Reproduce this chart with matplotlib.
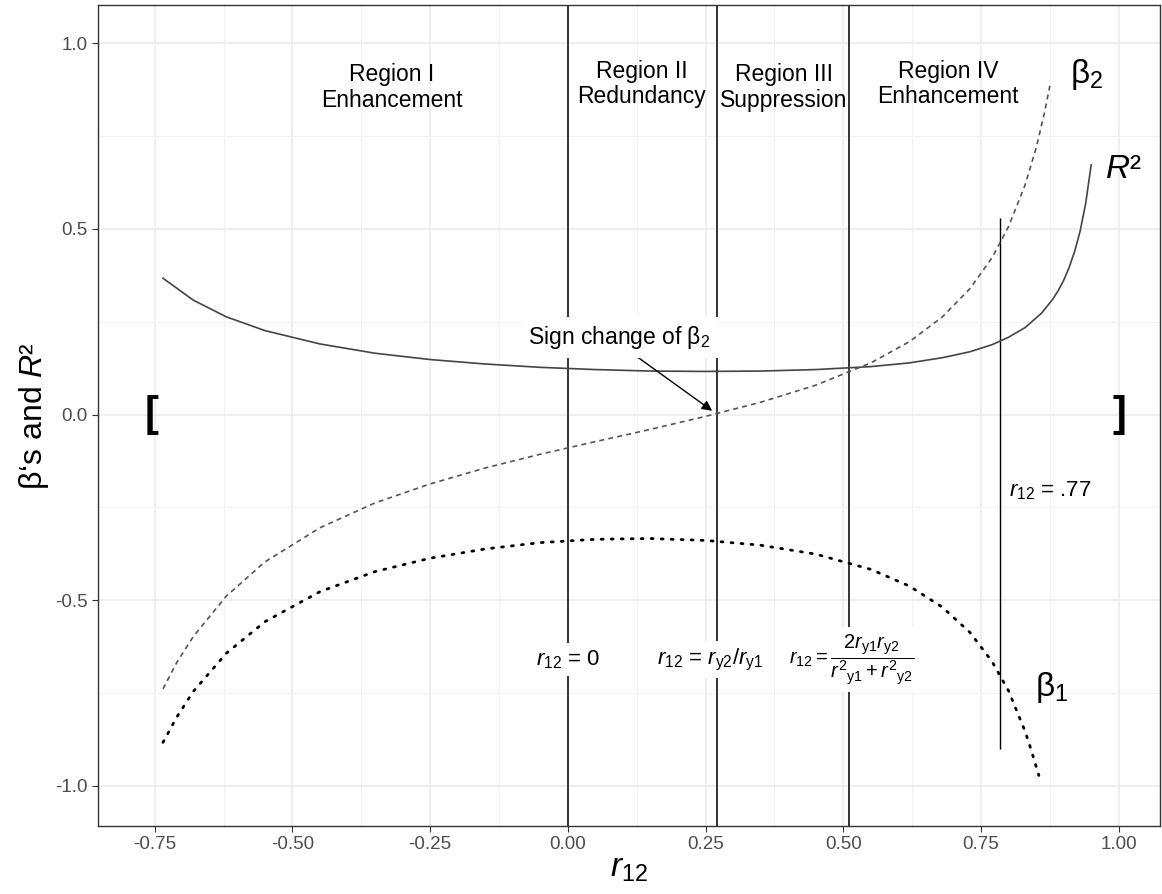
import matplotlib
matplotlib.use("Agg")
import matplotlib.pyplot as plt

# ---------------- data ----------------
r2_x = [-0.735, -0.68, -0.62, -0.55, -0.45, -0.35, -0.25, -0.15, -0.05, 0.05, 0.15, 0.25,
        0.35, 0.45, 0.55, 0.62, 0.68, 0.73, 0.77, 0.80, 0.83, 0.86, 0.88, 0.89, 0.90, 0.91,
        0.92, 0.93, 0.94, 0.95]
r2_y = [0.367, 0.308, 0.263, 0.226, 0.190, 0.165, 0.148, 0.136, 0.127, 0.121, 0.117, 0.116,
        0.117, 0.121, 0.129, 0.139, 0.153, 0.169, 0.188, 0.208, 0.234, 0.273, 0.310, 0.333,
        0.361, 0.396, 0.439, 0.494, 0.568, 0.672]

b2_x = [-0.735, -0.71, -0.68, -0.62, -0.55, -0.45, -0.35, -0.25, -0.15, -0.05, 0.05, 0.15,
        0.25, 0.35, 0.45, 0.55, 0.62, 0.68, 0.73, 0.77, 0.80, 0.83, 0.85, 0.865, 0.875]
b2_y = [-0.739, -0.668, -0.598, -0.489, -0.397, -0.305, -0.238, -0.187, -0.144, -0.107,
        -0.073, -0.040, -0.005, 0.033, 0.079, 0.139, 0.196, 0.263, 0.339, 0.422, 0.506,
        0.618, 0.717, 0.811, 0.885]

b1_x = [-0.735, -0.71, -0.68, -0.62, -0.55, -0.45, -0.35, -0.25, -0.15, -0.05, 0.05, 0.15,
        0.25, 0.35, 0.45, 0.55, 0.62, 0.68, 0.73, 0.77, 0.80, 0.83, 0.84, 0.855]
b1_y = [-0.883, -0.815, -0.746, -0.643, -0.558, -0.477, -0.423, -0.387, -0.362, -0.345,
        -0.336, -0.334, -0.339, -0.352, -0.376, -0.417, -0.462, -0.519, -0.587, -0.665,
        -0.744, -0.853, -0.898, -0.972]

region_bounds = [0.0, 0.27, 0.51]
cutoff_r12 = 0.785
cutoff_span = [-0.90, 0.53]

x_ticks = [-0.75, -0.50, -0.25, 0.00, 0.25, 0.50, 0.75, 1.00]
x_tick_labels = ["-0.75", "-0.50", "-0.25", "0.00", "0.25", "0.50", "0.75", "1.00"]
y_ticks = [-1.0, -0.5, 0.0, 0.5, 1.0]
y_tick_labels = ["-1.0", "-0.5", "0.0", "0.5", "1.0"]

region_labels = ["Region I\nEnhancement", "Region II\nRedundancy",
                 "Region III\nSuppression", "Region IV\nEnhancement"]

# ---------------- fonts ----------------
plt.rcParams['font.family'] = ['Liberation Sans', 'DejaVu Sans']
plt.rcParams['mathtext.fontset'] = 'custom'
plt.rcParams['mathtext.rm'] = 'Liberation Sans'
plt.rcParams['mathtext.it'] = 'Liberation Sans:italic'
plt.rcParams['mathtext.bf'] = 'Liberation Sans:bold'

fig = plt.figure(figsize=(11.62, 8.94), dpi=100)
ax = fig.add_axes([0.0843, 0.0761, 0.914, 0.918])

ax.set_xlim(-0.853, 1.075)
ax.set_ylim(-1.108, 1.102)

# grid (ggplot theme_bw look)
ax.set_xticks(x_ticks)
ax.set_xticklabels(x_tick_labels)
ax.set_yticks(y_ticks)
ax.set_yticklabels(y_tick_labels)
ax.set_xticks([-0.625, -0.375, -0.125, 0.125, 0.375, 0.625, 0.875], minor=True)
ax.set_yticks([-0.75, -0.25, 0.25, 0.75], minor=True)
ax.grid(which='major', color='#EBEBEB', lw=1.1, zorder=0)
ax.grid(which='minor', color='#F2F2F2', lw=0.8, zorder=0)
ax.set_axisbelow(True)
ax.tick_params(which='minor', length=0)
ax.tick_params(which='major', length=4, color='#333333', width=0.8,
               labelsize=13.5, labelcolor='#4D4D4D')
for s in ax.spines.values():
    s.set_color('#333333')
    s.set_linewidth(1.0)

# region boundaries
for xb in region_bounds:
    ax.axvline(xb, color='#333333', lw=1.4, zorder=2)
ax.vlines(cutoff_r12, cutoff_span[0], cutoff_span[1], color='black', lw=1.0, zorder=2)

# curves
ax.plot(r2_x, r2_y, color='#444444', lw=1.2, zorder=3)
ax.plot(b2_x, b2_y, color='#555555', lw=1.2, ls=(0, (3, 2.5)), zorder=3)
ax.plot(b1_x, b1_y, color='black', lw=2.0, ls=(0, (0.7, 2.9)),
        dash_capstyle='round', zorder=3)

# region labels
region_pos = [(-0.319, 0.88), (0.134, 0.89), (0.392, 0.88), (0.69, 0.89)]
for (px, py), lab in zip(region_pos, region_labels):
    ax.text(px, py, lab, ha='center', va='center', fontsize=16.5, color='black',
            linespacing=1.15, zorder=4)

# curve labels
ax.text(0.942, 0.915, r'$\mathrm{\beta}_2$', fontsize=24, ha='center', va='center')
ax.text(1.008, 0.66, r'$R$²', fontsize=24, ha='center', va='center')
ax.text(0.879, -0.735, r'$\mathrm{\beta}_1$', fontsize=24, ha='center', va='center')
ax.text(0.875, -0.205, r'$r_{12}$ = .77', fontsize=16, ha='center', va='center')

# brackets
ax.text(-0.755, 0.0, '[', fontsize=30, fontweight='bold', ha='center', va='center')
ax.text(1.002, 0.0, ']', fontsize=30, fontweight='bold', ha='center', va='center')

# boxed formula labels
box = dict(facecolor='white', edgecolor='none', pad=4)
ax.text(0.0, -0.66, r'$r_{12}$ = 0', fontsize=16, ha='center', va='center', bbox=box, zorder=5)
ax.text(0.258, -0.66, r'$r_{12}$ = $r_{\mathrm{y2}}$/$r_{\mathrm{y1}}$', fontsize=16,
        ha='center', va='center', bbox=box, zorder=5)
ax.text(0.515, -0.66,
        r'$r_{12} = \dfrac{2r_{\mathrm{y1}}r_{\mathrm{y2}}}{{r^2}_{\mathrm{y1}}+{r^2}_{\mathrm{y2}}}$',
        fontsize=14.5, ha='center', va='center', bbox=box, zorder=5)

# sign change annotation
ax.annotate(r'Sign change of $\mathrm{\beta}_2$', xy=(0.262, 0.01), xytext=(0.094, 0.208),
            fontsize=16.5, ha='center', va='center',
            bbox=dict(facecolor='white', edgecolor='none', pad=5),
            arrowprops=dict(arrowstyle='-|>', color='black', lw=1.0,
                            mutation_scale=15, shrinkA=0, shrinkB=0,
                            relpos=(0.55, 0.0)),
            zorder=6)

ax.set_xlabel(r'$r_{12}$', fontsize=24, labelpad=0)
ax.set_ylabel(r"β‘s and $R$²", fontsize=23, labelpad=3)

fig.savefig('out.png', dpi=100)
